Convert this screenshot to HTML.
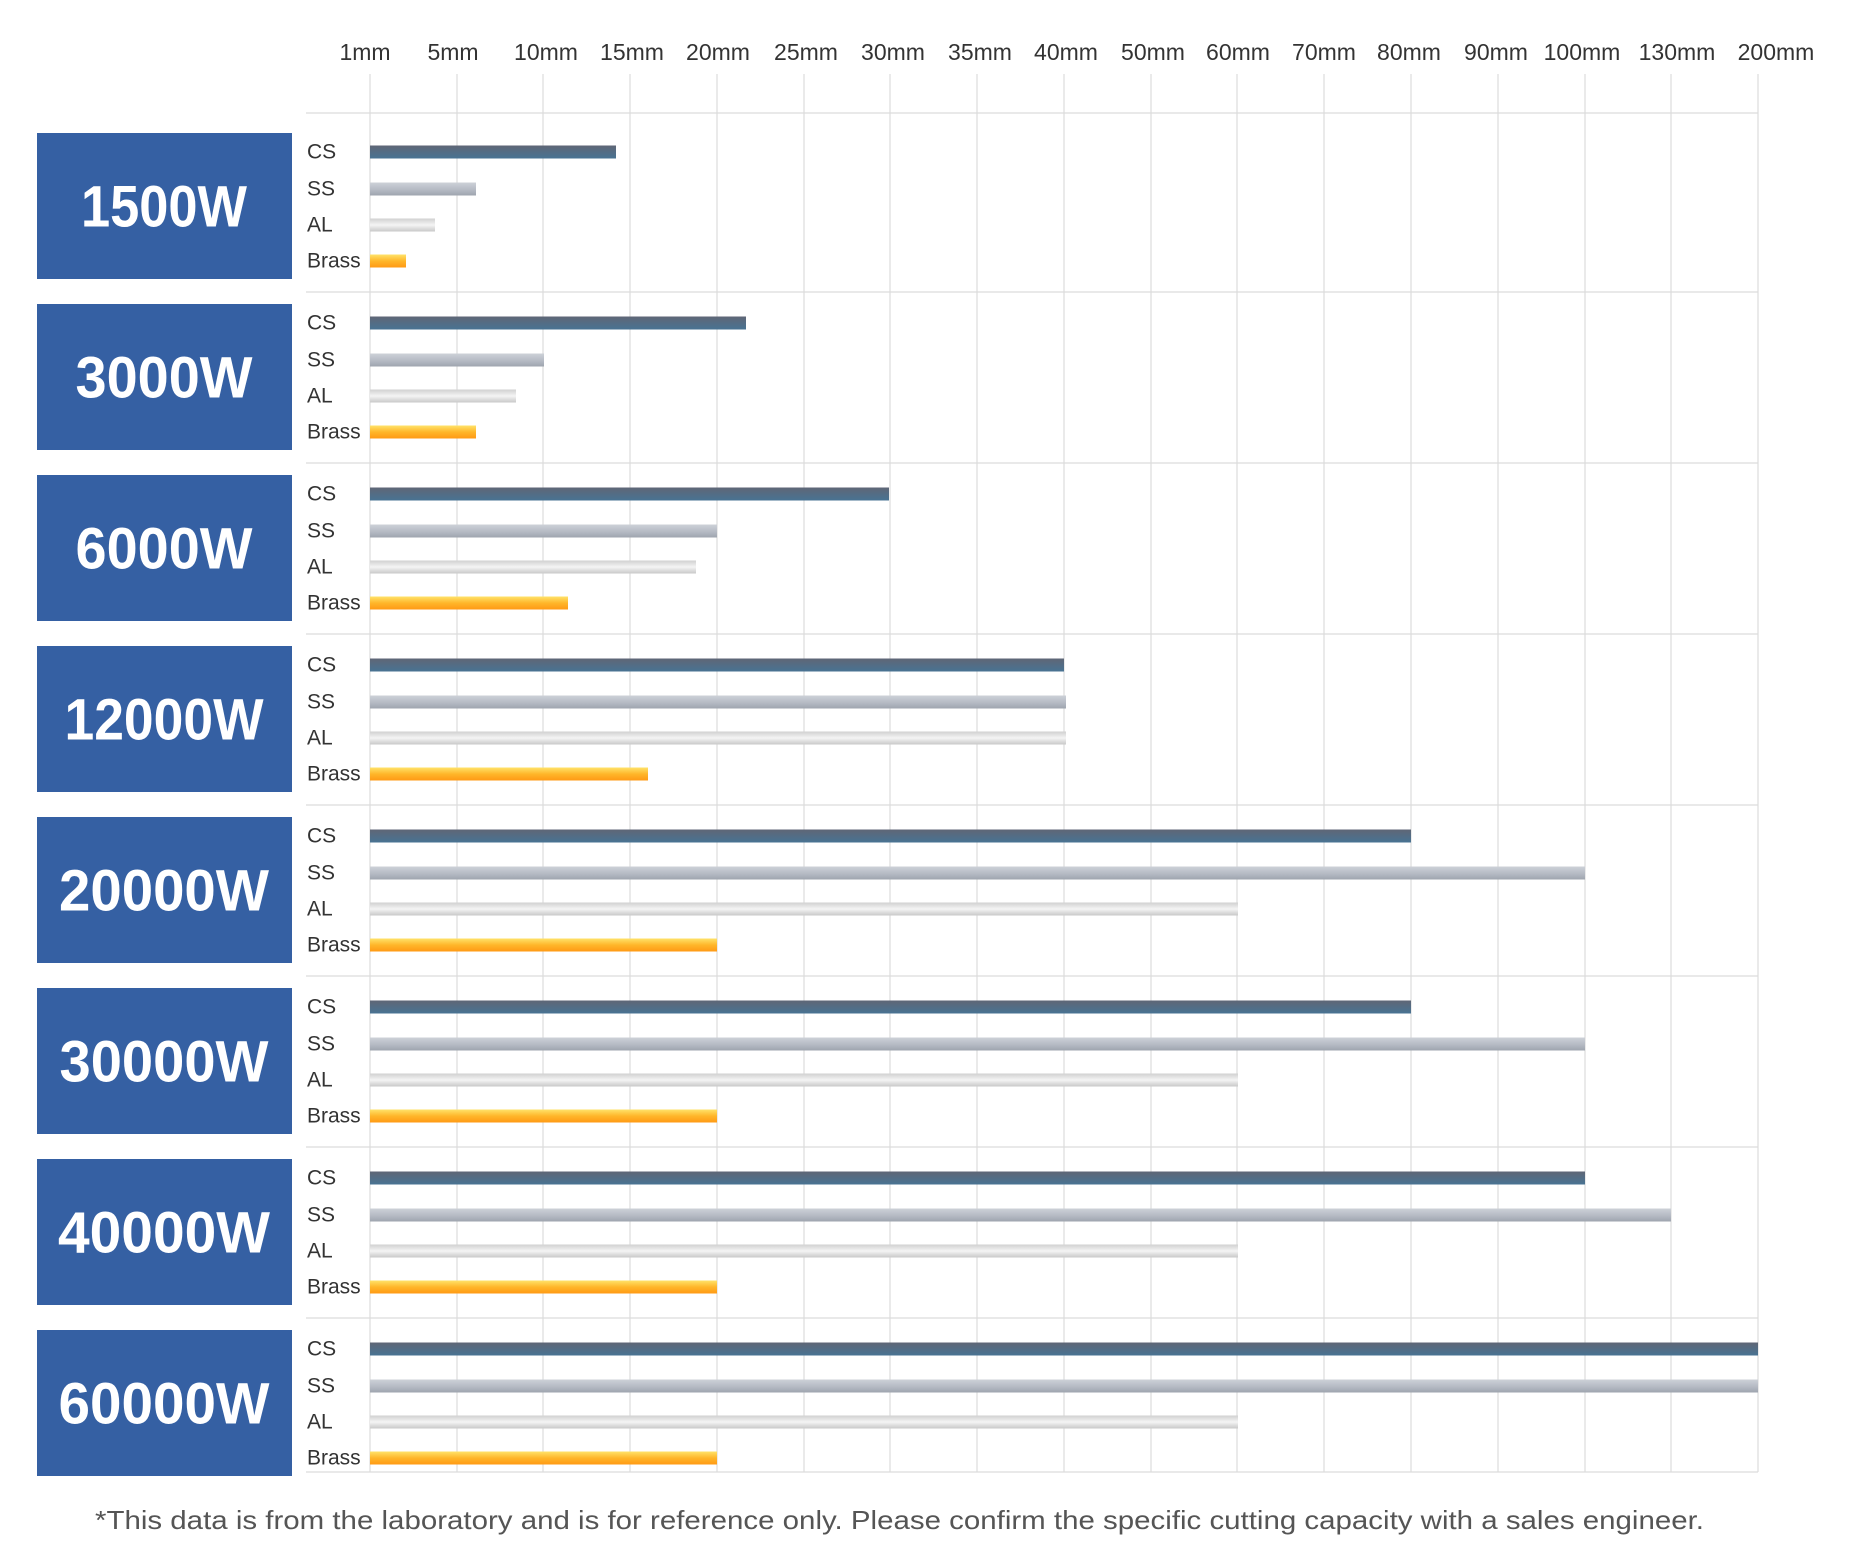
<!DOCTYPE html>
<html><head><meta charset="utf-8"><style>
html,body{margin:0;padding:0;background:#fff;}
svg{display:block;font-family:"Liberation Sans",sans-serif;}
</style></head><body>
<svg width="1858" height="1561" viewBox="0 0 1858 1561" xmlns="http://www.w3.org/2000/svg">
<defs>
<linearGradient id="cs" x1="0" y1="0" x2="0" y2="1"><stop offset="0" stop-color="#5f6676"/><stop offset="1" stop-color="#487393"/></linearGradient>
<linearGradient id="ss" x1="0" y1="0" x2="0" y2="1"><stop offset="0" stop-color="#cdd1d8"/><stop offset="0.6" stop-color="#b3b8c2"/><stop offset="1" stop-color="#9ea4ae"/></linearGradient>
<linearGradient id="al" x1="0" y1="0" x2="0" y2="1"><stop offset="0" stop-color="#d0d0d0"/><stop offset="0.5" stop-color="#f4f4f4"/><stop offset="1" stop-color="#c8c8c8"/></linearGradient>
<linearGradient id="br" x1="0" y1="0" x2="0" y2="1"><stop offset="0" stop-color="#ffe36a"/><stop offset="0.5" stop-color="#ffb62a"/><stop offset="1" stop-color="#ff9a14"/></linearGradient>
</defs>
<g fill="#333" font-size="23" text-anchor="middle" dominant-baseline="central">
<text x="365" y="52">1mm</text><text x="453" y="52">5mm</text><text x="546" y="52">10mm</text><text x="632" y="52">15mm</text><text x="718" y="52">20mm</text><text x="806" y="52">25mm</text><text x="893" y="52">30mm</text><text x="980" y="52">35mm</text><text x="1066" y="52">40mm</text><text x="1153" y="52">50mm</text><text x="1238" y="52">60mm</text><text x="1324" y="52">70mm</text><text x="1409" y="52">80mm</text><text x="1496" y="52">90mm</text><text x="1582" y="52">100mm</text><text x="1677" y="52">130mm</text><text x="1776" y="52">200mm</text>
</g>
<g stroke="#dcdcdc" stroke-width="1.2">
<line x1="370" y1="74" x2="370" y2="1472"/><line x1="457" y1="74" x2="457" y2="1472"/><line x1="543" y1="74" x2="543" y2="1472"/><line x1="630" y1="74" x2="630" y2="1472"/><line x1="717" y1="74" x2="717" y2="1472"/><line x1="804" y1="74" x2="804" y2="1472"/><line x1="890" y1="74" x2="890" y2="1472"/><line x1="977" y1="74" x2="977" y2="1472"/><line x1="1064" y1="74" x2="1064" y2="1472"/><line x1="1151" y1="74" x2="1151" y2="1472"/><line x1="1237" y1="74" x2="1237" y2="1472"/><line x1="1324" y1="74" x2="1324" y2="1472"/><line x1="1411" y1="74" x2="1411" y2="1472"/><line x1="1498" y1="74" x2="1498" y2="1472"/><line x1="1585" y1="74" x2="1585" y2="1472"/><line x1="1671" y1="74" x2="1671" y2="1472"/><line x1="1758" y1="74" x2="1758" y2="1472"/>
<line x1="306" y1="113" x2="1758" y2="113"/><line x1="306" y1="292" x2="1758" y2="292"/><line x1="306" y1="463" x2="1758" y2="463"/><line x1="306" y1="634" x2="1758" y2="634"/><line x1="306" y1="805" x2="1758" y2="805"/><line x1="306" y1="976" x2="1758" y2="976"/><line x1="306" y1="1147" x2="1758" y2="1147"/><line x1="306" y1="1318" x2="1758" y2="1318"/><line x1="306" y1="1472" x2="1758" y2="1472"/>
</g>
<g fill="#3560a3">
<rect x="37" y="133" width="255" height="146"/><rect x="37" y="304" width="255" height="146"/><rect x="37" y="475" width="255" height="146"/><rect x="37" y="646" width="255" height="146"/><rect x="37" y="817" width="255" height="146"/><rect x="37" y="988" width="255" height="146"/><rect x="37" y="1159" width="255" height="146"/><rect x="37" y="1330" width="255" height="146"/>
</g>
<g fill="#fff" font-size="58" font-weight="bold" text-anchor="middle" dominant-baseline="central" lengthAdjust="spacingAndGlyphs">
<text x="164" y="207" textLength="166" lengthAdjust="spacingAndGlyphs">1500W</text>
<text x="164" y="378" textLength="177" lengthAdjust="spacingAndGlyphs">3000W</text>
<text x="164" y="549" textLength="177" lengthAdjust="spacingAndGlyphs">6000W</text>
<text x="164" y="720" textLength="199" lengthAdjust="spacingAndGlyphs">12000W</text>
<text x="164" y="891" textLength="210" lengthAdjust="spacingAndGlyphs">20000W</text>
<text x="164" y="1062" textLength="209" lengthAdjust="spacingAndGlyphs">30000W</text>
<text x="164" y="1233" textLength="212" lengthAdjust="spacingAndGlyphs">40000W</text>
<text x="164" y="1404" textLength="211" lengthAdjust="spacingAndGlyphs">60000W</text>
</g>
<g fill="#333" font-size="21" dominant-baseline="central">
<text x="307" y="152">CS</text><text x="307" y="189">SS</text><text x="307" y="225">AL</text><text x="307" y="261">Brass</text>
<text x="307" y="323">CS</text><text x="307" y="360">SS</text><text x="307" y="396">AL</text><text x="307" y="432">Brass</text>
<text x="307" y="494">CS</text><text x="307" y="531">SS</text><text x="307" y="567">AL</text><text x="307" y="603">Brass</text>
<text x="307" y="665">CS</text><text x="307" y="702">SS</text><text x="307" y="738">AL</text><text x="307" y="774">Brass</text>
<text x="307" y="836">CS</text><text x="307" y="873">SS</text><text x="307" y="909">AL</text><text x="307" y="945">Brass</text>
<text x="307" y="1007">CS</text><text x="307" y="1044">SS</text><text x="307" y="1080">AL</text><text x="307" y="1116">Brass</text>
<text x="307" y="1178">CS</text><text x="307" y="1215">SS</text><text x="307" y="1251">AL</text><text x="307" y="1287">Brass</text>
<text x="307" y="1349">CS</text><text x="307" y="1386">SS</text><text x="307" y="1422">AL</text><text x="307" y="1458">Brass</text>
</g>
<g>
<rect x="370" y="145.5" width="246" height="13" fill="url(#cs)"/><rect x="370" y="182.5" width="106" height="13" fill="url(#ss)"/><rect x="370" y="218.5" width="65" height="13" fill="url(#al)"/><rect x="370" y="254.5" width="36" height="13" fill="url(#br)"/>
<rect x="370" y="316.5" width="376" height="13" fill="url(#cs)"/><rect x="370" y="353.5" width="174" height="13" fill="url(#ss)"/><rect x="370" y="389.5" width="146" height="13" fill="url(#al)"/><rect x="370" y="425.5" width="106" height="13" fill="url(#br)"/>
<rect x="370" y="487.5" width="519" height="13" fill="url(#cs)"/><rect x="370" y="524.5" width="347" height="13" fill="url(#ss)"/><rect x="370" y="560.5" width="326" height="13" fill="url(#al)"/><rect x="370" y="596.5" width="198" height="13" fill="url(#br)"/>
<rect x="370" y="658.5" width="694" height="13" fill="url(#cs)"/><rect x="370" y="695.5" width="696" height="13" fill="url(#ss)"/><rect x="370" y="731.5" width="696" height="13" fill="url(#al)"/><rect x="370" y="767.5" width="278" height="13" fill="url(#br)"/>
<rect x="370" y="829.5" width="1041" height="13" fill="url(#cs)"/><rect x="370" y="866.5" width="1215" height="13" fill="url(#ss)"/><rect x="370" y="902.5" width="868" height="13" fill="url(#al)"/><rect x="370" y="938.5" width="347" height="13" fill="url(#br)"/>
<rect x="370" y="1000.5" width="1041" height="13" fill="url(#cs)"/><rect x="370" y="1037.5" width="1215" height="13" fill="url(#ss)"/><rect x="370" y="1073.5" width="868" height="13" fill="url(#al)"/><rect x="370" y="1109.5" width="347" height="13" fill="url(#br)"/>
<rect x="370" y="1171.5" width="1215" height="13" fill="url(#cs)"/><rect x="370" y="1208.5" width="1301" height="13" fill="url(#ss)"/><rect x="370" y="1244.5" width="868" height="13" fill="url(#al)"/><rect x="370" y="1280.5" width="347" height="13" fill="url(#br)"/>
<rect x="370" y="1342.5" width="1388" height="13" fill="url(#cs)"/><rect x="370" y="1379.5" width="1388" height="13" fill="url(#ss)"/><rect x="370" y="1415.5" width="868" height="13" fill="url(#al)"/><rect x="370" y="1451.5" width="347" height="13" fill="url(#br)"/>
</g>
<text x="95" y="1520" fill="#555" font-size="26" dominant-baseline="central" textLength="1609" lengthAdjust="spacingAndGlyphs">*This data is from the laboratory and is for reference only. Please confirm the specific cutting capacity with a sales engineer.</text>
</svg>
</body></html>
